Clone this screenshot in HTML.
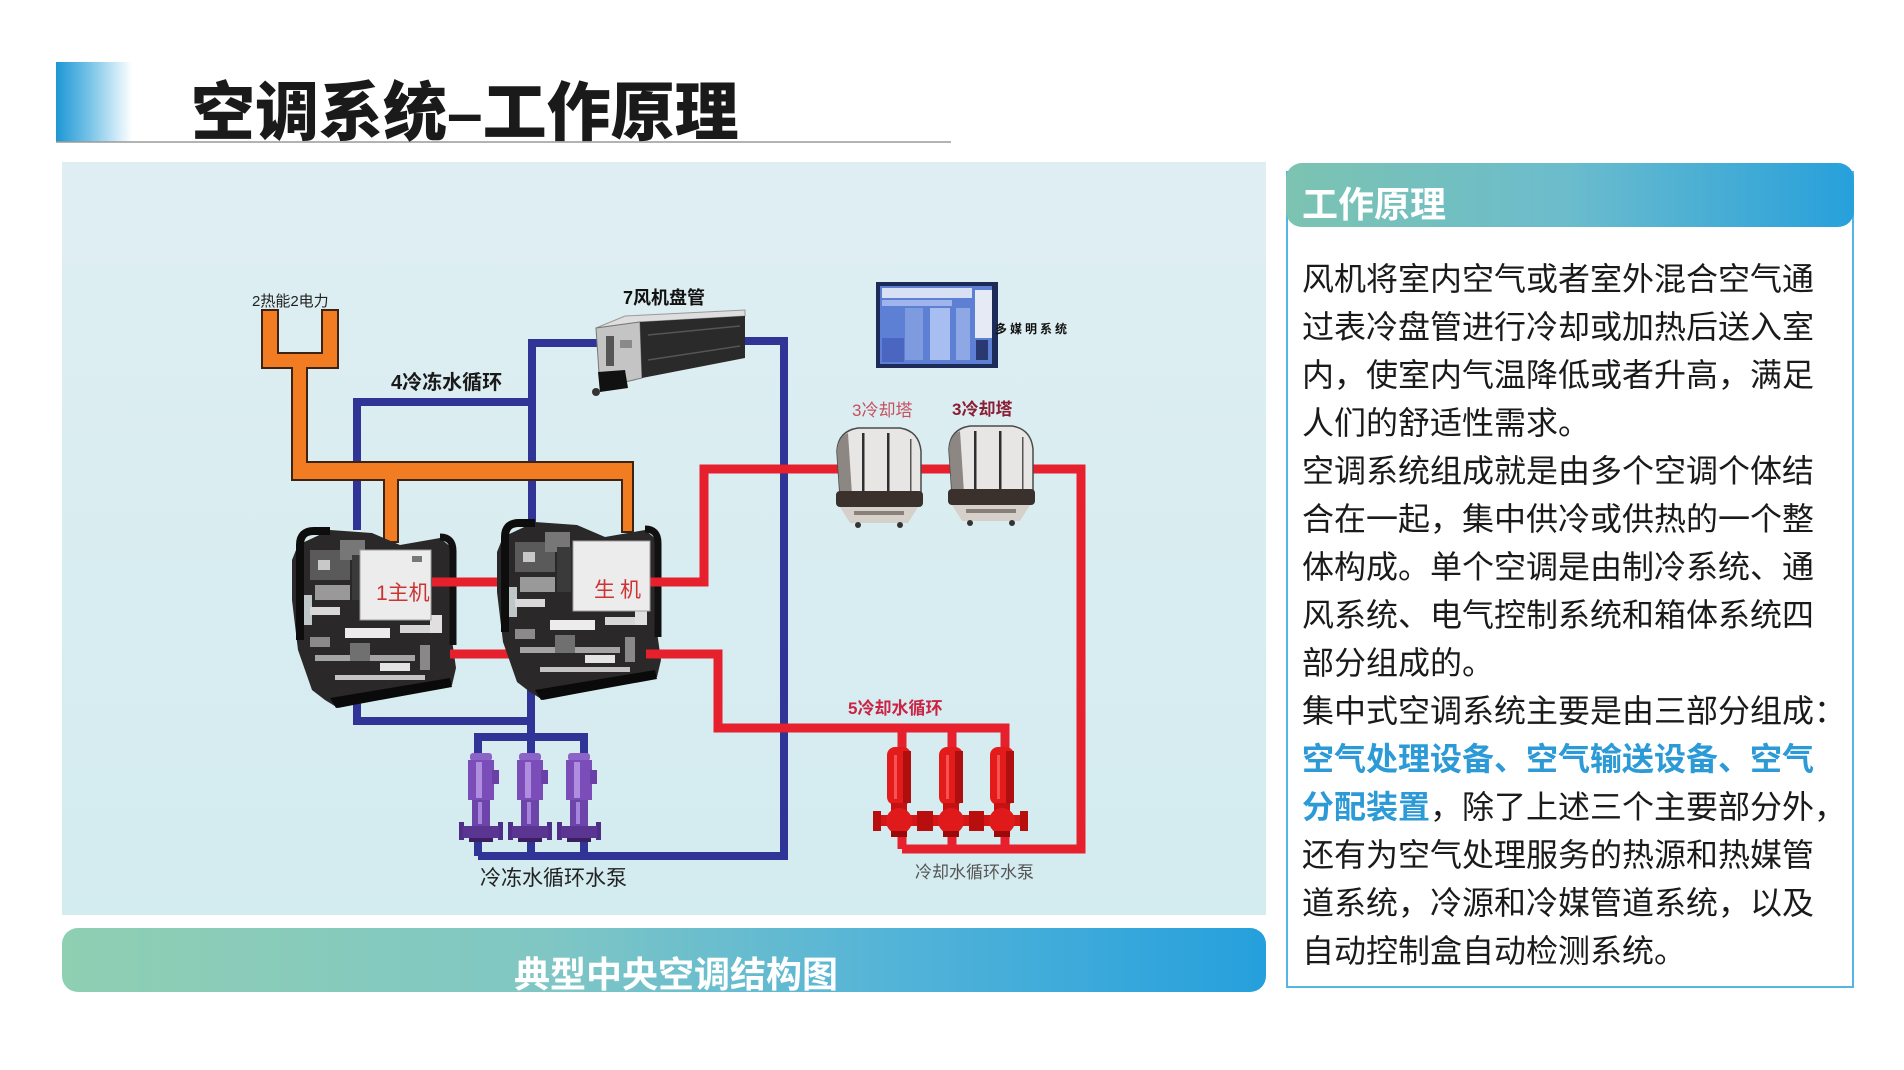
<!DOCTYPE html>
<html><head><meta charset="utf-8"><style>
html,body{margin:0;padding:0;background:#fff;}
body{width:1904px;height:1070px;overflow:hidden;position:relative;}
svg{position:absolute;left:0;top:0;}
.t{font-family:"Liberation Sans","Noto Sans CJK SC",sans-serif;}
</style></head><body>
<svg width="1904" height="1070" viewBox="0 0 1904 1070" xmlns="http://www.w3.org/2000/svg">
<defs>
<linearGradient id="tb" x1="0" y1="0" x2="1" y2="0"><stop offset="0" stop-color="#1d97d4"/><stop offset="0.45" stop-color="#79c4e8"/><stop offset="1" stop-color="#ffffff"/></linearGradient>
<linearGradient id="cap" x1="0" y1="0" x2="1" y2="0"><stop offset="0" stop-color="#8fcfb2"/><stop offset="0.4" stop-color="#80c7c4"/><stop offset="0.7" stop-color="#52b3d8"/><stop offset="1" stop-color="#25a0dc"/></linearGradient>
<linearGradient id="hdr" x1="0" y1="0" x2="1" y2="0"><stop offset="0" stop-color="#7cc3b1"/><stop offset="0.5" stop-color="#6bbccd"/><stop offset="1" stop-color="#27a0db"/></linearGradient>
<linearGradient id="bg" x1="0" y1="0" x2="0" y2="1"><stop offset="0" stop-color="#dfeef2"/><stop offset="1" stop-color="#d3ecf0"/></linearGradient>
<g id="chiller">
  <polygon points="8,20 40,5 82,8 110,20 150,13 162,23 162,115 166,143 162,160 100,173 48,183 35,175 22,165 8,125 2,75 2,35" fill="#2a2828"/>
  <rect x="20" y="25" width="40" height="30" fill="#5a5a5a"/>
  <rect x="50" y="15" width="25" height="20" fill="#777"/>
  <rect x="25" y="60" width="35" height="15" fill="#999"/>
  <rect x="62" y="30" width="14" height="45" fill="#3a3a3a"/>
  <rect x="28" y="35" width="12" height="10" fill="#c8c8c8"/>
  <rect x="12" y="70" width="10" height="30" fill="#bfc6c8"/>
  <rect x="20" y="82" width="30" height="8" fill="#d8d8d8"/>
  <rect x="55" y="103" width="45" height="10" fill="#ececec"/>
  <rect x="110" y="100" width="30" height="8" fill="#d6d6d6"/>
  <rect x="140" y="90" width="12" height="18" fill="#e0e0e0"/>
  <rect x="25" y="130" width="100" height="6" fill="#a4a4a4"/>
  <rect x="45" y="150" width="90" height="5" fill="#c4c4c4"/>
  <rect x="20" y="112" width="20" height="10" fill="#8a8a8a"/>
  <rect x="130" y="120" width="10" height="25" fill="#888"/>
  <rect x="60" y="118" width="20" height="18" fill="#707070"/>
  <rect x="90" y="138" width="30" height="8" fill="#e4e4e4"/>
  <path d="M10,115 V20 Q10,6 24,6 H40" stroke="#0d0d0d" stroke-width="8" fill="none"/>
  <path d="M150,12 Q163,12 163,26 V120" stroke="#111" stroke-width="7" fill="none"/>
  <polygon points="40,173 160,153 162,162 46,183" fill="#0a0a0a"/>
</g>
<g id="tower">
  <path d="M6,70 L3,26 Q4,6 24,3 L66,3 Q85,6 87,26 L87,70 Z" fill="#e8e6e4" stroke="#4a4a4a" stroke-width="1.5"/>
  <path d="M6,70 L3,26 Q4,12 14,8 L18,70 Z" fill="#8c8782"/>
  <rect x="28" y="8" width="2.5" height="60" fill="#2e2e2e"/>
  <rect x="53" y="8" width="2.5" height="60" fill="#2e2e2e"/>
  <rect x="76" y="14" width="1.5" height="54" fill="#555"/>
  <rect x="2" y="66" width="87" height="16" rx="4" fill="#3a302c"/>
  <path d="M6,82 L84,82 L74,98 L16,98 Z" fill="#d6d0ca"/>
  <rect x="20" y="86" width="50" height="4" fill="#8a7f78"/>
  <circle cx="24" cy="100" r="3" fill="#333"/><circle cx="66" cy="100" r="3" fill="#333"/>
</g>
<g id="ppump">
  <rect x="-11" y="0" width="22" height="8" rx="3" fill="#8c64c8"/>
  <rect x="-13" y="7" width="26" height="40" fill="#7a4db8"/>
  <rect x="11" y="17" width="7" height="14" fill="#6a40a8"/>
  <rect x="-5" y="9" width="6" height="36" fill="#b89ae6" opacity="0.85"/>
  <rect x="-9" y="47" width="18" height="26" fill="#6c44aa"/>
  <rect x="-3" y="49" width="4" height="22" fill="#a586da"/>
  <rect x="-22" y="69" width="5" height="18" fill="#4e2e86"/>
  <rect x="17" y="69" width="5" height="18" fill="#4e2e86"/>
  <rect x="-18" y="73" width="36" height="12" fill="#5a3692"/>
  <rect x="-12" y="85" width="24" height="4" fill="#3a2060"/>
</g>
<g id="rpump">
  <rect x="-12" y="0" width="24" height="58" rx="8" fill="#e31b1b"/>
  <rect x="4" y="4" width="8" height="52" fill="#b00f0f"/>
  <rect x="-5" y="8" width="3" height="44" fill="#ff6a6a" opacity="0.7"/>
  <rect x="-8" y="56" width="16" height="8" fill="#c41212"/>
  <rect x="-21" y="68" width="42" height="11" fill="#d51616"/>
  <rect x="-26" y="64" width="8" height="20" fill="#b80e0e"/>
  <rect x="18" y="64" width="8" height="20" fill="#b80e0e"/>
  <circle cx="0" cy="74" r="13" fill="#e01a1a"/>
  <rect x="-8" y="84" width="16" height="6" fill="#9a0a0a"/>
</g>
</defs>

<!-- Title -->
<rect x="56" y="62" width="76" height="80" fill="url(#tb)"/>
<line x1="56" y1="142" x2="951" y2="142" stroke="#9a9a9a" stroke-width="1.5"/>
<text class="t" x="191" y="135" font-size="64" font-weight="900" fill="#1a1a1a">空调系统–工作原理</text>

<!-- Diagram -->
<rect x="62" y="162" width="1204" height="753" fill="url(#bg)"/>

<!-- blue pipes -->
<g stroke="#2f3496" stroke-width="8" fill="none">
  <path d="M357,530 V402 H532"/>
  <path d="M532,522 V343 H598"/>
  <path d="M357,688 V721 H531"/>
  <path d="M531,690 V737"/>
  <path d="M478,856 V737 H584 V856"/>
  <path d="M531,737 V856"/>
  <path d="M478,856 H784 V341 H742"/>
</g>
<!-- orange pipes -->
<path d="M262,310 H278 V353 H322 V310 H338 V368 H307 V462 H633 V532 H622 V480 H398 V542 H384 V480 H292 V368 H262 Z" fill="#f27c22" stroke="#3d2314" stroke-width="2"/>

<!-- chiller 1 -->
<use href="#chiller" x="290" y="525"/>
<!-- red pipes -->
<g stroke="#e6202c" stroke-width="9" fill="none">
  <path d="M432,582 H704 V469 H840"/>
  <path d="M918,469 H952"/>
  <path d="M450,654 H718 V728 H1005 V849"/>
  <path d="M902,728 V849"/>
  <path d="M952,728 V849"/>
  <path d="M902,849 H1081 V469 H1028"/>
</g>
<rect x="360" y="550" width="71" height="70" fill="#ececec" stroke="#a0a0a0" stroke-width="1"/>
<rect x="412" y="556" width="10" height="6" fill="#777"/>
<text class="t" x="376" y="600" font-size="21" fill="#cc3333">1主机</text>

<!-- chiller 2 -->
<use href="#chiller" x="495" y="517"/>
<g stroke="#e6202c" stroke-width="9" fill="none">
  <path d="M646,582 H704"/>
  <path d="M646,654 H718"/>
</g>
<rect x="573" y="541" width="77" height="70" fill="#ececec" stroke="#a0a0a0" stroke-width="1"/>
<text class="t" x="594" y="597" font-size="21" fill="#cc3333" letter-spacing="5">生机</text>

<!-- fan coil -->
<polygon points="596,328 625,316 745,310 745,316 640,322" fill="#dedede" stroke="#999" stroke-width="1"/>
<polygon points="596,328 640,322 642,378 600,388" fill="#c4c4c4" stroke="#777" stroke-width="1"/>
<rect x="606" y="336" width="8" height="30" fill="#555"/>
<rect x="620" y="340" width="12" height="8" fill="#8a8a8a"/>
<polygon points="640,322 745,316 745,358 642,378" fill="#2a2a2a"/>
<line x1="648" y1="335" x2="740" y2="326" stroke="#555" stroke-width="1.5"/>
<line x1="648" y1="360" x2="740" y2="346" stroke="#555" stroke-width="1.5"/>
<polygon points="598,372 625,370 628,388 600,392" fill="#111"/>
<circle cx="596" cy="392" r="4" fill="#333"/>

<!-- monitor -->
<rect x="876" y="282" width="122" height="86" fill="#1c2b57"/>
<rect x="880" y="286" width="112" height="78" fill="#5d7fd4"/>
<rect x="882" y="288" width="90" height="10" fill="#d8e0f4"/>
<rect x="882" y="300" width="70" height="6" fill="#9fb4ea"/>
<rect x="905" y="308" width="18" height="52" fill="#7f9be0"/>
<rect x="930" y="308" width="20" height="52" fill="#a8bdf0"/>
<rect x="956" y="308" width="14" height="52" fill="#8ea8e6"/>
<rect x="975" y="290" width="17" height="48" fill="#e6eaf4"/>
<rect x="882" y="338" width="22" height="24" fill="#4a66c0"/>
<rect x="976" y="340" width="12" height="20" fill="#2a3a70"/>

<!-- towers -->
<use href="#tower" x="834" y="425"/>
<use href="#tower" x="946" y="423"/>

<!-- pumps -->
<use href="#ppump" x="481" y="753"/>
<use href="#ppump" x="530" y="753"/>
<use href="#ppump" x="579" y="753"/>
<use href="#rpump" x="899" y="747"/>
<use href="#rpump" x="951" y="747"/>
<use href="#rpump" x="1002" y="747"/>

<!-- diagram labels -->
<g class="t">
<text x="252" y="306" font-size="15" fill="#222">2热能2电力</text>
<text x="623" y="304" font-size="18" font-weight="700" fill="#111">7风机盘管</text>
<text x="391" y="389" font-size="20" font-weight="700" fill="#1a1a1a">4冷冻水循环</text>
<text x="995" y="333" font-size="12" font-weight="700" fill="#111" letter-spacing="3">多媒明系统</text>
<text x="852" y="416" font-size="17" fill="#c65060">3冷却塔</text>
<text x="952" y="415" font-size="17" font-weight="700" fill="#8a1e34">3冷却塔</text>
<text x="848" y="714" font-size="17" font-weight="700" fill="#cc2244">5冷却水循环</text>
<text x="915" y="878" font-size="17" fill="#555">冷却水循环水泵</text>
<text x="480" y="885" font-size="21" fill="#222">冷冻水循环水泵</text>
</g>

<!-- caption bar -->
<rect x="62" y="928" width="1204" height="64" rx="16" fill="url(#cap)"/>
<text class="t" x="514" y="987" font-size="36" font-weight="700" fill="#ffffff">典型中央空调结构图</text>

<!-- right panel -->
<rect x="1287" y="172" width="566" height="815" fill="#ffffff" stroke="#55b5e3" stroke-width="2"/>
<rect x="1286" y="163" width="568" height="64" rx="16" fill="url(#hdr)"/>
<text class="t" x="1302" y="217" font-size="36" font-weight="700" fill="#ffffff">工作原理</text>

<g class="t" font-size="32" fill="#1a1a1a">
<text x="1302" y="290">风机将室内空气或者室外混合空气通</text>
<text x="1302" y="338">过表冷盘管进行冷却或加热后送入室</text>
<text x="1302" y="386">内，使室内气温降低或者升高，满足</text>
<text x="1302" y="434">人们的舒适性需求。</text>
<text x="1302" y="482">空调系统组成就是由多个空调个体结</text>
<text x="1302" y="530">合在一起，集中供冷或供热的一个整</text>
<text x="1302" y="578">体构成。单个空调是由制冷系统、通</text>
<text x="1302" y="626">风系统、电气控制系统和箱体系统四</text>
<text x="1302" y="674">部分组成的。</text>
<text x="1302" y="722">集中式空调系统主要是由三部分组成：</text>
<text x="1302" y="770" font-weight="700" fill="#2b9ad6">空气处理设备、空气输送设备、空气</text>
<text x="1302" y="818"><tspan font-weight="700" fill="#2b9ad6">分配装置</tspan>，除了上述三个主要部分外，</text>
<text x="1302" y="866">还有为空气处理服务的热源和热媒管</text>
<text x="1302" y="914">道系统，冷源和冷媒管道系统，以及</text>
<text x="1302" y="962">自动控制盒自动检测系统。</text>
</g>
</svg>
</body></html>
